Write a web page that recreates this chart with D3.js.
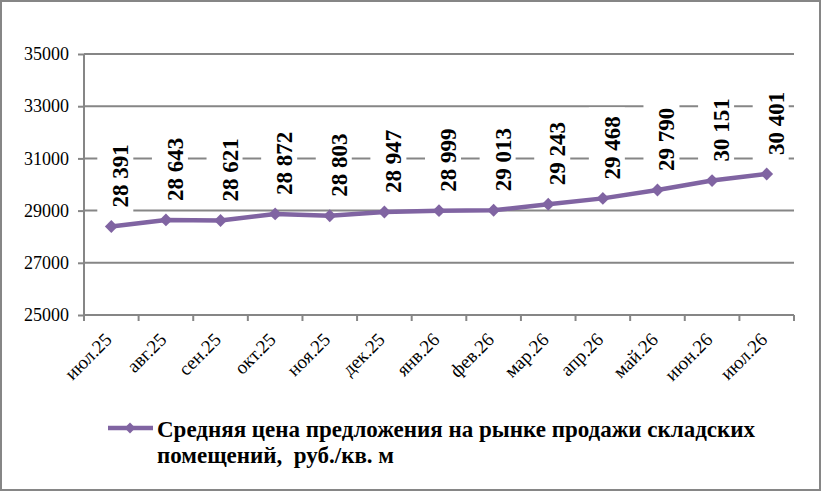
<!DOCTYPE html>
<html>
<head>
<meta charset="utf-8">
<script src="https://cdn.jsdelivr.net/npm/d3@7"></script>
<style>
  body { margin: 0; background: #fff; }
  svg { display: block; }
</style>
</head>
<body>
<div id="chart"></div>
<script>
// chart data
var months = ["июл.25", "авг.25", "сен.25", "окт.25", "ноя.25", "дек.25", "янв.26",
              "фев.26", "мар.26", "апр.26", "май.26", "июн.26", "июл.26"];
var prices = [28391, 28643, 28621, 28872, 28803, 28947, 28999, 29013, 29243, 29468, 29790, 30151, 30401];
var priceLabels = ["28 391", "28 643", "28 621", "28 872", "28 803", "28 947", "28 999",
                   "29 013", "29 243", "29 468", "29 790", "30 151", "30 401"];
var yTicks = [25000, 27000, 29000, 31000, 33000, 35000];
var seriesName = ["Средняя цена предложения на рынке продажи складских", "помещений,  руб./кв. м"];

var svgWidth = 822;
var svgHeight = 492;

var chartMargin = { top: 54, right: 28, bottom: 177, left: 84 };
var chartWidth = svgWidth - chartMargin.left - chartMargin.right;
var chartHeight = svgHeight - chartMargin.top - chartMargin.bottom;

var purple = "#8064a2";
var grey = "#868686";
var serif = "'Liberation Serif'";

var svg = d3.select("#chart")
  .append("svg")
  .attr("width", svgWidth)
  .attr("height", svgHeight);

// outer frame
svg.append("rect")
  .attr("x", 1).attr("y", 1)
  .attr("width", svgWidth - 3).attr("height", svgHeight - 3)
  .attr("fill", "#fff")
  .attr("stroke", grey)
  .attr("stroke-width", 2);

var chartGroup = svg.append("g")
  .attr("transform", `translate(${chartMargin.left}, ${chartMargin.top})`);

// scales
var xScale = d3.scaleBand()
  .domain(months)
  .range([0, chartWidth]);

var yScale = d3.scaleLinear()
  .domain([25000, 35000])
  .range([chartHeight, 0]);

// gridlines
chartGroup.append("g")
  .selectAll("line")
  .data(yTicks.slice(1))
  .enter()
  .append("line")
  .attr("x1", 0)
  .attr("x2", chartWidth)
  .attr("y1", d => yScale(d))
  .attr("y2", d => yScale(d))
  .attr("stroke", grey)
  .attr("stroke-width", 2);

// y axis
var leftAxis = d3.axisLeft(yScale)
  .tickValues(yTicks)
  .tickSize(6)
  .tickPadding(9)
  .tickFormat(d3.format("d"));

var yAxisG = chartGroup.append("g").call(leftAxis);
yAxisG.selectAll("path, line").attr("stroke", grey).attr("stroke-width", 2);
yAxisG.select(".domain").attr("d", `M0,0V${chartHeight}`);
yAxisG.selectAll("text")
  .attr("fill", "#000")
  .style("font-family", serif)
  .style("font-size", "18px");

// x axis (labels sit at band centres), ticks on band boundaries
var bottomAxis = d3.axisBottom(xScale).tickSize(0).tickPadding(0);
var xAxisG = chartGroup.append("g")
  .attr("transform", `translate(0, ${chartHeight})`)
  .call(bottomAxis);
xAxisG.select(".domain").attr("stroke", grey).attr("stroke-width", 2)
  .attr("d", `M0,0H${chartWidth}`);
xAxisG.selectAll("text")
  .attr("fill", "#000")
  .style("font-family", serif)
  .style("font-size", "19px")
  .attr("text-anchor", "end")
  .attr("dy", "0.35em")
  .attr("transform", "translate(-3, 21) rotate(-45)")
  .attr("y", 0)
  .attr("x", 0);

var boundaries = months.map(m => xScale(m)).concat([chartWidth]);
chartGroup.append("g")
  .selectAll("line")
  .data(boundaries)
  .enter()
  .append("line")
  .attr("x1", d => d).attr("x2", d => d)
  .attr("y1", chartHeight).attr("y2", chartHeight + 6)
  .attr("stroke", grey)
  .attr("stroke-width", 2);

var cx = (d, i) => xScale(months[i]) + xScale.bandwidth() / 2;

// data labels with white backing
var labels = chartGroup.append("g")
  .selectAll("g")
  .data(prices)
  .enter()
  .append("g")
  .attr("transform", (d, i) => `translate(${cx(d, i) + 17}, ${yScale(d) - 19}) rotate(-90)`);

labels.append("rect")
  .attr("x", -6)
  .attr("y", -31)
  .attr("width", 78)
  .attr("height", 36)
  .attr("fill", "#fff");

labels.append("text")
  .text((d, i) => priceLabels[i])
  .attr("x", 0)
  .attr("y", 0)
  .style("font-family", serif)
  .style("font-size", "23px")
  .style("font-weight", "bold")
  .attr("fill", "#000");

// line
var line = d3.line()
  .x((d, i) => cx(d, i))
  .y(d => yScale(d));

chartGroup.append("path")
  .datum(prices)
  .attr("d", line)
  .attr("fill", "none")
  .attr("stroke", purple)
  .attr("stroke-width", 4.5)
  .attr("stroke-linejoin", "round");

var diamond = d3.symbol().type(d3.symbolDiamond2).size(105);
chartGroup.selectAll(".pt")
  .data(prices)
  .enter()
  .append("path")
  .attr("class", "pt")
  .attr("d", diamond)
  .attr("transform", (d, i) => `translate(${cx(d, i)}, ${yScale(d)})`)
  .attr("fill", purple);

// legend
var legend = svg.append("g");
legend.append("line")
  .attr("x1", 108).attr("x2", 153)
  .attr("y1", 428).attr("y2", 428)
  .attr("stroke", purple)
  .attr("stroke-width", 4.5);
legend.append("path")
  .attr("d", d3.symbol().type(d3.symbolDiamond2).size(75))
  .attr("transform", "translate(130, 428)")
  .attr("fill", purple);
legend.selectAll("text")
  .data(seriesName)
  .enter()
  .append("text")
  .attr("x", 157)
  .attr("y", (d, i) => 437 + i * 26)
  .text(d => d)
  .style("font-family", serif)
  .style("font-size", "23px")
  .style("font-weight", "bold")
  .style("white-space", "pre")
  .attr("fill", "#000");
</script>
</body>
</html>
